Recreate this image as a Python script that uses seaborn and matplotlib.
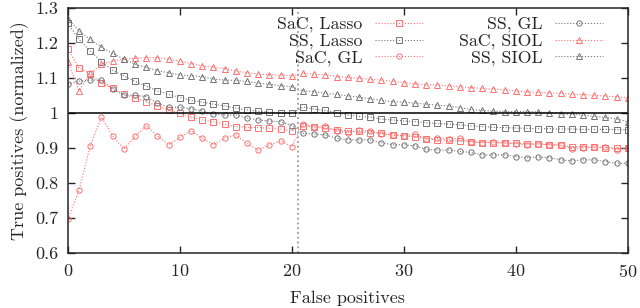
import numpy as np
import pandas as pd
import matplotlib
matplotlib.use('Agg')
import matplotlib.pyplot as plt
from matplotlib.ticker import FuncFormatter, MultipleLocator
import seaborn as sns

fp = list(range(51))

sac_lasso = [1.182, 1.129, 1.111, 1.085, 1.071, 1.053, 1.042, 1.032, 1.020, 1.008,
             0.999, 0.988, 0.980, 0.975, 0.968, 0.961, 0.959, 0.958, 0.956, 0.954,
             0.949, 0.962, 0.960, 0.956, 0.951, 0.949, 0.947, 0.944, 0.942, 0.937,
             0.934, 0.932, 0.926, 0.923, 0.922, 0.920, 0.918, 0.915, 0.915, 0.914,
             0.913, 0.912, 0.911, 0.909, 0.907, 0.904, 0.903, 0.902, 0.901, 0.899,
             0.900]
ss_lasso = [1.256, 1.210, 1.177, 1.147, 1.122, 1.106, 1.090, 1.077, 1.063, 1.053,
            1.044, 1.036, 1.031, 1.025, 1.020, 1.014, 1.009, 1.005, 1.002, 1.000,
            0.999, 1.017, 1.011, 1.007, 1.001, 0.994, 0.990, 0.988, 0.982, 0.980,
            0.977, 0.975, 0.972, 0.970, 0.968, 0.966, 0.963, 0.961, 0.959, 0.958,
            0.957, 0.956, 0.955, 0.955, 0.954, 0.954, 0.953, 0.953, 0.953, 0.952,
            0.952]
sac_gl = [0.696, 0.780, 0.906, 0.988, 0.935, 0.897, 0.934, 0.963, 0.934, 0.909,
          0.930, 0.949, 0.928, 0.909, 0.928, 0.938, 0.913, 0.894, 0.909, 0.920,
          0.904, 0.968, 0.960, 0.962, 0.948, 0.944, 0.950, 0.948, 0.940, 0.937,
          0.935, 0.940, 0.925, 0.928, 0.925, 0.928, 0.918, 0.915, 0.918, 0.914,
          0.912, 0.908, 0.912, 0.909, 0.908, 0.898, 0.900, 0.902, 0.903, 0.895,
          0.901]
ss_gl = [1.082, 1.091, 1.094, 1.094, 1.068, 1.051, 1.050, 1.047, 1.028, 1.016,
         1.016, 1.012, 1.006, 0.996, 0.994, 0.994, 0.985, 0.980, 0.977, 0.975,
         0.964, 0.942, 0.940, 0.937, 0.928, 0.923, 0.923, 0.923, 0.915, 0.909,
         0.909, 0.906, 0.896, 0.894, 0.894, 0.890, 0.887, 0.880, 0.880, 0.880,
         0.875, 0.872, 0.874, 0.872, 0.866, 0.863, 0.866, 0.866, 0.861, 0.856,
         0.856]
sac_siol = [1.147, 1.064, 1.113, 1.139, 1.149, 1.154, 1.156, 1.158, 1.158, 1.153,
            1.149, 1.141, 1.135, 1.130, 1.127, 1.120, 1.115, 1.111, 1.109, 1.108,
            1.106, 1.113, 1.111, 1.109, 1.104, 1.102, 1.099, 1.096, 1.094, 1.090,
            1.087, 1.083, 1.081, 1.080, 1.077, 1.075, 1.072, 1.070, 1.068, 1.066,
            1.063, 1.060, 1.059, 1.057, 1.056, 1.054, 1.052, 1.051, 1.048, 1.046,
            1.043]
ss_siol = [1.270, 1.234, 1.210, 1.188, 1.170, 1.154, 1.139, 1.130, 1.121, 1.115,
           1.109, 1.106, 1.104, 1.097, 1.094, 1.093, 1.090, 1.085, 1.082, 1.078,
           1.075, 1.063, 1.061, 1.056, 1.053, 1.049, 1.045, 1.041, 1.036, 1.032,
           1.031, 1.028, 1.025, 1.022, 1.020, 1.015, 1.010, 1.007, 1.005, 1.004,
           1.004, 1.004, 1.003, 1.001, 0.998, 0.996, 0.994, 0.990, 0.987, 0.983,
           0.975]

cutoff = 20.55

labels = ['SaC, Lasso', 'SS, Lasso', 'SaC, GL', 'SS, GL', 'SaC, SIOL', 'SS, SIOL']
series = [sac_lasso, ss_lasso, sac_gl, ss_gl, sac_siol, ss_siol]

red = '#ff7070'
grey = '#747474'
colors = [red, grey, red, grey, red, grey]
markers = ['s', 's', 'o', 'o', '^', '^']

sns.set_style('ticks')
plt.rcParams['font.family'] = 'serif'
plt.rcParams['font.serif'] = ['cmr10', 'DejaVu Serif']
plt.rcParams['axes.formatter.use_mathtext'] = True
plt.rcParams['mathtext.fontset'] = 'cm'

fig = plt.figure(figsize=(6.4, 3.08), dpi=100)
ax = fig.add_axes([0.106, 0.179, 0.875, 0.795])

for lab, vals, c, m in zip(labels, series, colors, markers):
    df = pd.DataFrame({'fp': fp, 'tp': vals})
    sns.lineplot(data=df, x='fp', y='tp', ax=ax, color=c, linestyle=':', linewidth=0.8,
                 marker=m, markersize=3.8, markerfacecolor='none', markeredgecolor=c,
                 markeredgewidth=0.7, label=lab)

ax.axhline(1.0, color='black', linewidth=1.1)
ax.axvline(cutoff, color='#9a9a9a', linestyle=':', linewidth=1.3)

ax.set_xlim(0, 50)
ax.set_ylim(0.6, 1.3)
ax.xaxis.set_major_locator(MultipleLocator(10))
ax.yaxis.set_major_locator(MultipleLocator(0.1))
ax.yaxis.set_major_formatter(FuncFormatter(lambda v, p: '%g' % round(v, 2)))
ax.tick_params(direction='in', top=True, right=True, length=5, width=1, labelsize=13, pad=7)
for s in ax.spines.values():
    s.set_linewidth(1.1)
    s.set_visible(True)

ax.set_xlabel('False positives', fontsize=13, labelpad=8)
ax.set_ylabel('True positives (normalized)', fontsize=13, labelpad=4)

ax.legend(ncol=2, loc='upper right', bbox_to_anchor=(0.955, 0.965), frameon=False,
          markerfirst=False, fontsize=12.8, handlelength=2.7, labelspacing=0.05,
          columnspacing=2.0, handletextpad=0.7, borderaxespad=0.0, borderpad=0.0,
          numpoints=1)

fig.savefig('out.png', dpi=100)
